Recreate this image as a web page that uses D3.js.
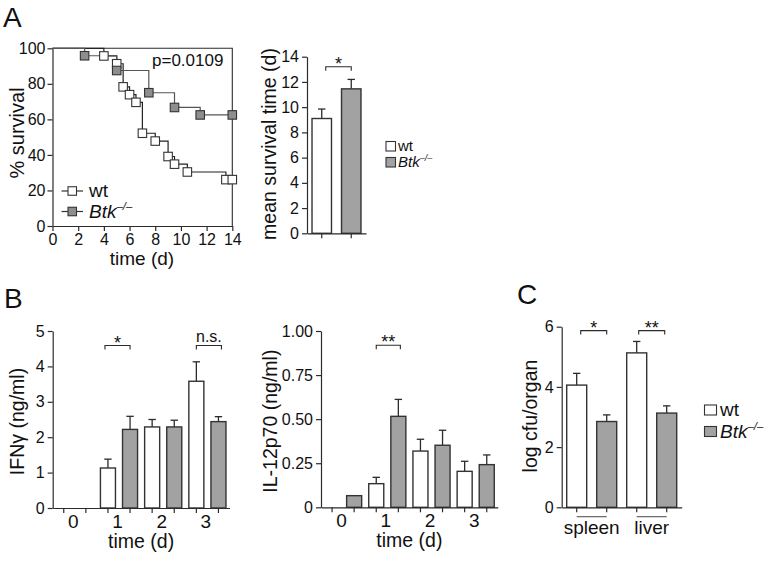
<!DOCTYPE html>
<html><head><meta charset="utf-8">
<script src="https://cdn.jsdelivr.net/npm/d3@7"></script>
<style>
body{margin:0;background:#fff}
text{font-family:Arial,"Liberation Sans",Helvetica,sans-serif;fill:#111}
</style>
</head><body>
<svg id="c" width="773" height="562" xmlns="http://www.w3.org/2000/svg"></svg>
<script>
// ---------------- DATA ----------------
// Panel A: Kaplan-Meier survival
const survDaysWt  = [0, 4, 5, 5.5, 6, 6.5, 7, 8, 9, 9.5, 10.5, 13.5, 14];
const survPctWt   = [100, 95.7, 91.3, 78.3, 73.9, 69.6, 52.2, 47.8, 39.1, 34.8, 30.4, 26.1, 26.1];
const survDaysBtk = [0, 2.5, 5, 7.5, 9.5, 11.5, 14];
const survPctBtk  = [100, 95.8, 87.5, 75, 66.7, 62.5, 62.5];
const survXTicks  = [0, 2, 4, 6, 8, 10, 12, 14];
const survYTicks  = [0, 20, 40, 60, 80, 100];
const pValueText  = "p=0.0109";

// Panel A: mean survival time
const meanGroups = ["wt", "Btk"];
const meanValues = [9.1, 11.45];
const meanErrors = [0.75, 0.75];
const meanYTicks = [0, 2, 4, 6, 8, 10, 12, 14];

// Panel B: cytokines
const days = ["0", "1", "2", "3"];
const ifnWt     = [0, 1.13, 2.29, 3.58];
const ifnWtErr  = [0, 0.25, 0.21, 0.55];
const ifnBtk    = [0, 2.22, 2.29, 2.44];
const ifnBtkErr = [0, 0.37, 0.19, 0.14];
const ifnYTicks = [0, 1, 2, 3, 4, 5];
const ifnYLabels = ["0", "1", "2", "3", "4", "5"];

const il12Wt     = [0, 0.134, 0.319, 0.204];
const il12WtErr  = [0, 0.036, 0.067, 0.057];
const il12Btk    = [0.066, 0.516, 0.352, 0.242];
const il12BtkErr = [0, 0.096, 0.085, 0.055];
const il12YTicks = [0, 0.25, 0.5, 0.75, 1];
const il12YLabels = ["0", "0.25", "0.50", "0.75", "1.00"];

// Panel C: bacterial load
const organs    = ["spleen", "liver"];
const cfuWt     = [4.06, 5.13];
const cfuWtErr  = [0.39, 0.38];
const cfuBtk    = [2.85, 3.13];
const cfuBtkErr = [0.22, 0.24];
const cfuYTicks = [0, 2, 4, 6];
const cfuYLabels = ["0", "2", "4", "6"];

// ---------------- STYLE ----------------
const FONT = 'Arial, "Liberation Sans", Helvetica, sans-serif';
const AX = "#2b2b2b";
const BAR_GRAY = "#a2a2a2";
const MARK_GRAY = "#8e8e8e";
const BAR_STROKE = "#333";

const svg = d3.select("#c");

function styleAxis(g, fs) {
  g.select(".domain").attr("stroke", AX).attr("stroke-width", 1.2);
  g.selectAll(".tick line").attr("stroke", AX).attr("stroke-width", 1.2);
  g.selectAll(".tick text").attr("font-size", fs || 16).attr("fill", "#111").attr("font-family", FONT);
}

function addText(x, y, str, opts) {
  opts = opts || {};
  const t = svg.append("text").attr("x", x).attr("y", y).text(str)
    .attr("font-size", opts.size || 16)
    .attr("text-anchor", opts.anchor || "start");
  if (opts.rotate) t.attr("transform", `rotate(-90,${x},${y})`);
  if (opts.italic) t.attr("font-style", "italic");
  return t;
}

function btkLabel(x, y, size) {
  const t = svg.append("text").attr("x", x).attr("y", y).attr("font-size", size);
  t.append("tspan").attr("font-style", "italic").text("Btk");
  t.append("tspan").attr("font-style", "italic").attr("font-size", size * 0.6).attr("dy", -size * 0.42).text("–/–");
  return t;
}

function bracket(x1, x2, y, label) {
  svg.append("path")
    .attr("d", `M${x1},${y + 4}V${y}H${x2}V${y + 4}`)
    .attr("fill", "none").attr("stroke", AX).attr("stroke-width", 1.1);
  addText((x1 + x2) / 2, label === "n.s." ? y - 4 : y + 3, label, {anchor: "middle", size: label === "n.s." ? 16 : 18});
}

function drawBars(g, xs, ys, keys, vals, errs, fill) {
  keys.forEach((k, i) => {
    const v = vals[i];
    if (v <= 0) return;
    const x0 = xs(k), w = xs.bandwidth(), cx = x0 + w / 2;
    const e = errs[i];
    if (e > 0) {
      g.append("line").attr("x1", cx).attr("x2", cx).attr("y1", ys(v)).attr("y2", ys(v + e))
        .attr("stroke", AX).attr("stroke-width", 1.3);
      g.append("line").attr("x1", cx - 3.7).attr("x2", cx + 3.7).attr("y1", ys(v + e)).attr("y2", ys(v + e))
        .attr("stroke", AX).attr("stroke-width", 1.3);
    }
    g.append("rect").attr("x", x0).attr("y", ys(v)).attr("width", w).attr("height", ys(0) - ys(v))
      .attr("fill", typeof fill === "function" ? fill(i) : fill)
      .attr("stroke", BAR_STROKE).attr("stroke-width", 1.4);
  });
}

// ---------------- PANEL A: survival ----------------
{
  const xS = d3.scaleLinear().domain([0, 14]).range([52.5, 232.3]);
  const yS = d3.scaleLinear().domain([0, 100]).range([226, 48.3]);
  const g = svg.append("g");

  g.append("path").attr("d", `M${xS(0)},${yS(100)}H${xS(14)}V${yS(0)}`)
    .attr("fill", "none").attr("stroke", AX).attr("stroke-width", 1.1);

  const ax = g.append("g").attr("transform", `translate(0,${yS(0)})`)
    .call(d3.axisBottom(xS).tickValues(survXTicks).tickSize(5).tickSizeOuter(0).tickPadding(3));
  styleAxis(ax);
  const ay = g.append("g").attr("transform", `translate(${xS(0)},0)`)
    .call(d3.axisLeft(yS).tickValues(survYTicks).tickSize(5).tickSizeOuter(0).tickPadding(2));
  styleAxis(ay);

  const line = d3.line().x(d => xS(d[0])).y(d => yS(d[1])).curve(d3.curveStepAfter);
  const wtPts = survDaysWt.map((d, i) => [d, survPctWt[i]]);
  const btkPts = survDaysBtk.map((d, i) => [d, survPctBtk[i]]);
  g.append("path").attr("d", line(wtPts)).attr("fill", "none").attr("stroke", "#222").attr("stroke-width", 1.2);
  g.append("path").attr("d", line(btkPts)).attr("fill", "none").attr("stroke", "#555").attr("stroke-width", 1.2);
  const sq = 8.5;
  wtPts.slice(1).forEach(p => {
    g.append("rect").attr("x", xS(p[0]) - sq / 2).attr("y", yS(p[1]) - sq / 2).attr("width", sq).attr("height", sq)
      .attr("fill", "#fff").attr("stroke", "#333").attr("stroke-width", 1.1);
  });
  btkPts.slice(1).forEach(p => {
    g.append("rect").attr("x", xS(p[0]) - sq / 2).attr("y", yS(p[1]) - sq / 2).attr("width", sq).attr("height", sq)
      .attr("fill", MARK_GRAY).attr("stroke", "#333").attr("stroke-width", 1.1);
  });

  addText(152, 66, pValueText, {size: 17});
  addText(24, 133, "% survival", {size: 20, anchor: "middle", rotate: true});
  addText(142, 265, "time (d)", {size: 19, anchor: "middle"});

  [["wt", "#fff", 191], ["Btk", MARK_GRAY, 211.5]].forEach(([lab, fill, cy]) => {
    g.append("line").attr("x1", 61.5).attr("x2", 83).attr("y1", cy).attr("y2", cy).attr("stroke", "#333").attr("stroke-width", 1.2);
    g.append("rect").attr("x", 68).attr("y", cy - 4.25).attr("width", sq).attr("height", sq)
      .attr("fill", fill).attr("stroke", "#333").attr("stroke-width", 1.1);
  });
  addText(89, 197, "wt", {size: 19});
  btkLabel(89, 217.5, 19);
}

// ---------------- PANEL A: mean survival ----------------
{
  const xS = d3.scaleBand().domain(meanGroups).range([307, 366]).paddingInner(0.34).paddingOuter(0.17);
  const yS = d3.scaleLinear().domain([0, 14]).range([233.3, 56.7]);
  const g = svg.append("g");
  drawBars(g, xS, yS, meanGroups, meanValues, meanErrors, i => i === 0 ? "#fff" : BAR_GRAY);
  const ax = g.append("g").attr("transform", `translate(0,${yS(0)})`)
    .call(d3.axisBottom(xS).tickSize(5).tickSizeOuter(0).tickFormat(""));
  styleAxis(ax);
  const ay = g.append("g").attr("transform", `translate(307,0)`)
    .call(d3.axisLeft(yS).tickValues(meanYTicks).tickSize(5).tickSizeOuter(0).tickPadding(3).tickFormat(d3.format("d")));
  styleAxis(ay);
  const c1 = xS("wt") + xS.bandwidth() / 2, c2 = xS("Btk") + xS.bandwidth() / 2;
  bracket(c1 + 4, c2, yS(13.2), "*");
  addText(276, 144, "mean survival time (d)", {size: 19.5, anchor: "middle", rotate: true});

  svg.append("rect").attr("x", 386).attr("y", 141.5).attr("width", 9.5).attr("height", 9.5)
    .attr("fill", "#fff").attr("stroke", "#333").attr("stroke-width", 1.1);
  svg.append("rect").attr("x", 386).attr("y", 157.5).attr("width", 9.5).attr("height", 9.5)
    .attr("fill", BAR_GRAY).attr("stroke", "#333").attr("stroke-width", 1.1);
  addText(398, 151, "wt", {size: 15});
  btkLabel(398, 167, 15);
}

// ---------------- PANEL B ----------------
function cytokinePanel(x0, x1, y0px, y1px, yMax, wt, wtErr, btk, btkErr, yTicks, yLabels, yLabel, yLabelX) {
  const keys = [];
  days.forEach(d => { keys.push(d + "-wt"); keys.push(d + "-btk"); });
  const xS = d3.scaleBand().domain(keys).range([x0, x1]).paddingInner(0.32).paddingOuter(0.16);
  const yS = d3.scaleLinear().domain([0, yMax]).range([y0px, y1px]);
  const g = svg.append("g");
  drawBars(g, xS, yS, days.map(d => d + "-wt"), wt, wtErr, "#fff");
  drawBars(g, xS, yS, days.map(d => d + "-btk"), btk, btkErr, BAR_GRAY);
  const ax = g.append("g").attr("transform", `translate(0,${yS(0)})`)
    .call(d3.axisBottom(xS).tickSize(5).tickSizeOuter(0).tickFormat(""));
  styleAxis(ax);
  const ay = g.append("g").attr("transform", `translate(${x0},0)`)
    .call(d3.axisLeft(yS).tickValues(yTicks).tickSize(5).tickSizeOuter(0).tickPadding(3)
      .tickFormat((d, i) => yLabels[i]));
  styleAxis(ay);
  days.forEach(d => {
    const cx = (xS(d + "-wt") + xS(d + "-btk") + xS.bandwidth()) / 2 - 1.5;
    addText(cx, y0px + 20, d, {size: 19, anchor: "middle"});
  });
  addText((x0 + x1) / 2, y0px + 40, "time (d)", {size: 19.5, anchor: "middle"});
  addText(yLabelX, (y0px + y1px) / 2 + 2, yLabel, {size: 19.5, anchor: "middle", rotate: true});
  return {xS, yS};
}

{
  const {xS, yS} = cytokinePanel(52.7, 229.5, 508, 331, 5, ifnWt, ifnWtErr, ifnBtk, ifnBtkErr,
    ifnYTicks, ifnYLabels, "IFNγ (ng/ml)", 24);
  const c = k => xS(k) + xS.bandwidth() / 2;
  bracket(c("1-wt") - 3, c("1-btk"), yS(4.59), "*");
  bracket(c("3-wt"), c("3-btk") + 3, yS(4.59), "n.s.");
}
{
  const {xS, yS} = cytokinePanel(321, 497.8, 507.3, 331, 1, il12Wt, il12WtErr, il12Btk, il12BtkErr,
    il12YTicks, il12YLabels, "IL-12p70 (ng/ml)", 277);
  const c = k => xS(k) + xS.bandwidth() / 2;
  bracket(c("1-wt"), c("1-btk") + 2, yS(0.919), "**");
}

// ---------------- PANEL C ----------------
{
  const keys = [];
  organs.forEach(o => { keys.push(o + "-wt"); keys.push(o + "-btk"); });
  const xS = d3.scaleBand().domain(keys).range([561.7, 681.7]).paddingInner(1 / 3).paddingOuter(1 / 6);
  const yS = d3.scaleLinear().domain([0, 6]).range([507.3, 326.7]);
  const g = svg.append("g");
  drawBars(g, xS, yS, organs.map(o => o + "-wt"), cfuWt, cfuWtErr, "#fff");
  drawBars(g, xS, yS, organs.map(o => o + "-btk"), cfuBtk, cfuBtkErr, BAR_GRAY);
  const ax = g.append("g").attr("transform", `translate(0,${yS(0)})`)
    .call(d3.axisBottom(xS).tickSize(5).tickSizeOuter(0).tickFormat(""));
  styleAxis(ax);
  const ay = g.append("g").attr("transform", `translate(561.7,0)`)
    .call(d3.axisLeft(yS).tickValues(cfuYTicks).tickSize(5).tickSizeOuter(0).tickPadding(3)
      .tickFormat((d, i) => cfuYLabels[i]));
  styleAxis(ay);
  const c = k => xS(k) + xS.bandwidth() / 2;
  organs.forEach(o => {
    g.append("line").attr("x1", c(o + "-wt")).attr("x2", c(o + "-btk")).attr("y1", 516.7).attr("y2", 516.7)
      .attr("stroke", "#555").attr("stroke-width", 1.1);
    addText((c(o + "-wt") + c(o + "-btk")) / 2, 534, o, {size: 19, anchor: "middle"});
  });
  bracket(c("spleen-wt") + 4, c("spleen-btk"), yS(5.87), "*");
  bracket(c("liver-wt") + 2, c("liver-btk") - 2, yS(5.87), "**");
  addText(537, 416, "log cfu/organ", {size: 19.5, anchor: "middle", rotate: true});

  svg.append("rect").attr("x", 704.5).attr("y", 405).attr("width", 12).attr("height", 10)
    .attr("fill", "#fff").attr("stroke", "#333").attr("stroke-width", 1.1);
  svg.append("rect").attr("x", 704.5).attr("y", 426.5).attr("width", 12).attr("height", 10)
    .attr("fill", BAR_GRAY).attr("stroke", "#333").attr("stroke-width", 1.1);
  addText(720, 416, "wt", {size: 19});
  btkLabel(720, 438, 19);
}

// ---------------- panel letters ----------------
addText(3, 27, "A", {size: 28});
addText(4, 308, "B", {size: 28});
addText(517, 304, "C", {size: 28});
</script>
</body></html>
